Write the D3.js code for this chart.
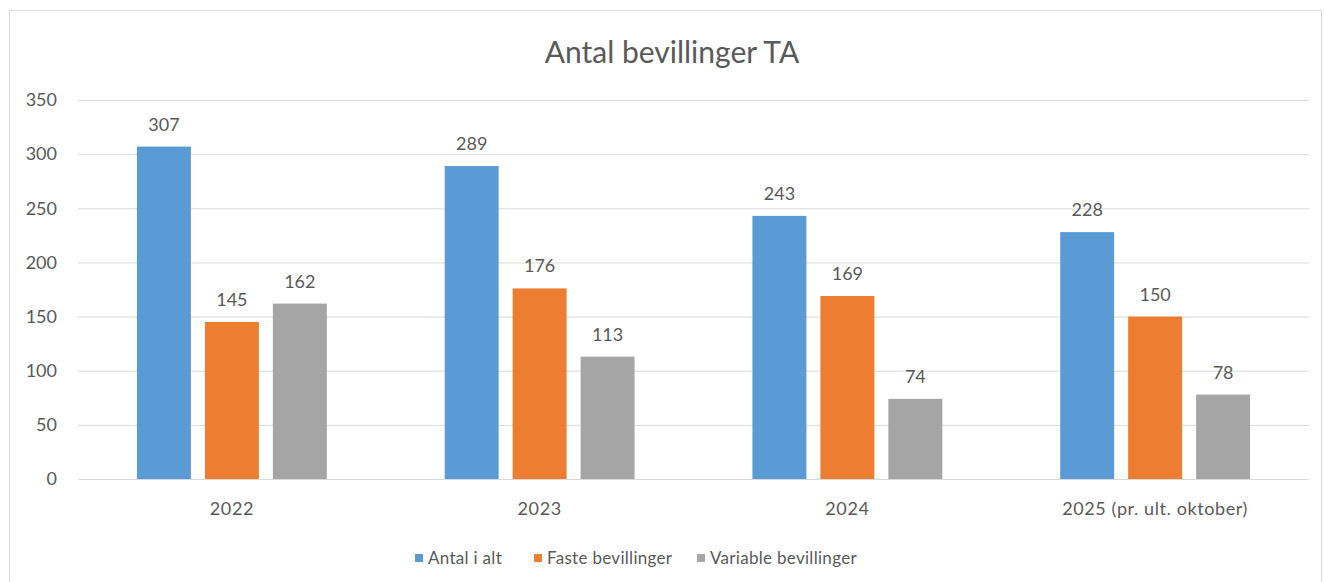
<!DOCTYPE html>
<html>
<head>
<meta charset="utf-8">
<script src="https://cdn.jsdelivr.net/npm/d3@7"></script>
<style>
  html, body { margin: 0; padding: 0; background: #ffffff; }
  svg { display: block; }
  text { font-family: Lato, "Open Sans", sans-serif; fill: #595959; }
</style>
</head>
<body>
<svg id="chart" width="1324" height="582"></svg>
<script>
const title = "Antal bevillinger TA";
const categories = ["2022", "2023", "2024", "2025 (pr. ult. oktober)"];
const seriesNames = ["Antal i alt", "Faste bevillinger", "Variable bevillinger"];
const antalIAlt = [307, 289, 243, 228];
const fasteBevillinger = [145, 176, 169, 150];
const variableBevillinger = [162, 113, 74, 78];
const seriesColors = ["#5B9BD5", "#ED7D31", "#A5A5A5"];
const yTicks = [0, 50, 100, 150, 200, 250, 300, 350];

const seriesValues = [antalIAlt, fasteBevillinger, variableBevillinger];

const svg = d3.select("#chart");

// outer border
svg.append("rect")
  .attr("x", 9.5).attr("y", 10.5)
  .attr("width", 1312).attr("height", 590)
  .attr("fill", "#ffffff")
  .attr("stroke", "#d9d9d9").attr("stroke-width", 1);

const plot = { left: 78, right: 1309, top: 100, bottom: 479 };

const y = d3.scaleLinear().domain([0, 350]).range([plot.bottom, plot.top]);
const x0 = d3.scaleBand().domain(categories).range([plot.left, plot.right])
  .paddingInner(0.383).paddingOuter(0.1915);
const x1 = d3.scaleBand().domain(seriesNames).range([0, x0.bandwidth()])
  .paddingInner(0.206).paddingOuter(0);

// gridlines
const yAxis = d3.axisLeft(y).tickValues(yTicks)
  .tickSize(-(plot.right - plot.left)).tickPadding(21).tickFormat(d3.format("d"));
const gy = svg.append("g").attr("transform", `translate(${plot.left},0)`).call(yAxis);
gy.select(".domain").remove();
gy.selectAll(".tick line").attr("stroke", "#d9d9d9").attr("stroke-width", 1);
gy.selectAll(".tick text").attr("font-size", 18).attr("fill", "#595959")
  .style("font-family", "Lato, 'Open Sans', sans-serif");

// bars
const groups = svg.append("g").selectAll("g")
  .data(categories)
  .join("g")
  .attr("transform", d => `translate(${x0(d)},0)`);

groups.selectAll("rect")
  .data((c, ci) => seriesNames.map((s, si) => ({ s, si, v: seriesValues[si][ci] })))
  .join("rect")
  .attr("x", d => x1(d.s))
  .attr("width", x1.bandwidth())
  .attr("y", d => y(d.v))
  .attr("height", d => y(0) - y(d.v))
  .attr("fill", d => seriesColors[d.si]);

groups.selectAll("text.lbl")
  .data((c, ci) => seriesNames.map((s, si) => ({ s, si, v: seriesValues[si][ci] })))
  .join("text")
  .attr("class", "lbl")
  .attr("x", d => x1(d.s) + x1.bandwidth() / 2)
  .attr("y", d => y(d.v) - 16)
  .attr("text-anchor", "middle")
  .attr("font-size", 18)
  .text(d => d.v);

// x axis labels
const xAxis = d3.axisBottom(x0).tickSize(0).tickPadding(23);
const gx = svg.append("g").attr("transform", `translate(0,${plot.bottom})`).call(xAxis);
gx.select(".domain").remove();
gx.selectAll(".tick text").attr("font-size", 18).attr("fill", "#595959")
  .style("letter-spacing", "0.6px")
  .style("font-family", "Lato, 'Open Sans', sans-serif");

// zero line on top
svg.append("line")
  .attr("x1", plot.left).attr("x2", plot.right)
  .attr("y1", y(0) + 0.5).attr("y2", y(0) + 0.5)
  .attr("stroke", "#d9d9d9");

// title
svg.append("text")
  .attr("x", 672).attr("y", 63)
  .attr("text-anchor", "middle")
  .attr("font-size", 30)
  .text(title);

// legend
const legendX = [415, 534, 697];
const legend = svg.append("g").selectAll("g")
  .data(seriesNames)
  .join("g")
  .attr("transform", (d, i) => `translate(${legendX[i]},558)`);
legend.append("rect")
  .attr("x", 0).attr("y", -4).attr("width", 8).attr("height", 8)
  .attr("fill", (d, i) => seriesColors[i]);
legend.append("text")
  .attr("x", 13).attr("y", 6)
  .attr("font-size", 17)
  .style("letter-spacing", "0.3px")
  .text(d => d);
</script>
</body>
</html>
